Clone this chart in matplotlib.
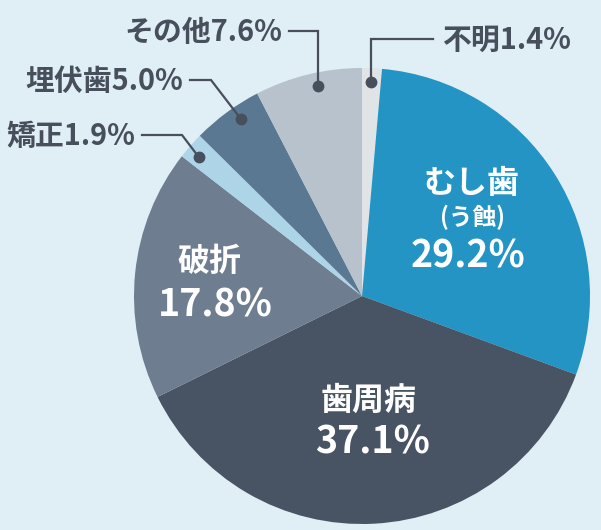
import numpy as np
import matplotlib.pyplot as plt

# pie data, clockwise from 12 o'clock
names = ['不明', 'むし歯', '歯周病', '破折', '矯正', '埋伏歯', 'その他']
shares = [1.4, 29.2, 37.1, 17.8, 1.9, 5.0, 7.6]
colors = ['#e0e4e7', '#2394c3', '#485463', '#6e7e90', '#add4e7', '#5b7893', '#b8c2cd']

bg = '#e0eef6'
dark = '#464f5b'
font = ['Noto Sans CJK JP', 'DejaVu Sans']

cx, cy, R = 362, 296, 228

fig = plt.figure(figsize=(6.01, 5.30), dpi=100, facecolor=bg)
ax = fig.add_axes([0, 0, 1, 1])
ax.set_facecolor(bg)

# y axis is flipped so pixel coords work, hence startangle -90 + counterclock
wedges, _ = ax.pie(shares, colors=colors, startangle=-90, counterclock=True,
                   center=(cx, cy), radius=R, frame=True,
                   wedgeprops=dict(linewidth=0))
ax.set_xlim(0, 601)
ax.set_ylim(530, 0)
ax.set_aspect('auto')
ax.axis('off')

def fmt(v):
    return f'{v:.1f}%'

# big labels inside the wedges
inside = {1: (471, 184, 468, 256), 2: (369, 401, 373, 442), 3: (209, 262, 215, 305)}
for i, (tx, ty, px, py) in inside.items():
    ax.text(tx, ty, names[i], color='white', fontsize=23, fontweight='bold',
            family=font, ha='center', va='center')
    ax.text(px, py, fmt(shares[i]), color='white', fontsize=27, fontweight='bold',
            family=font, ha='center', va='center')
ax.text(472, 217, '(う蝕)', color='white', fontsize=17, fontweight='bold',
        family=font, ha='center', va='center')

# small wedges get leader lines: (index, spot in wedge, elbow, line end, side)
callouts = [
    (0, 0.5, None, (433, 38.5), 'left'),
    (6, 0.57, None, (289, 31), 'right'),
    (5, 0.61, (211, 80), (190, 80), 'right'),
    (4, 0.38, (182, 135), (142, 135), 'right'),
]
for i, frac, elbow, end, side in callouts:
    w = wedges[i]
    th = np.radians(w.theta1 + frac * (w.theta2 - w.theta1))
    dx = cx + 0.94 * R * np.cos(th)
    dy = cy + 0.94 * R * np.sin(th)
    if elbow is None:
        elbow = (dx, end[1])
    ax.plot([dx, elbow[0], end[0]], [dy, elbow[1], end[1]], color=dark, lw=1.6,
            solid_joinstyle='miter')
    ax.plot(dx, dy, 'o', color=dark, ms=8.5, mew=0)
    if side == 'left':
        tx, ha = end[0] + 9, 'left'
    else:
        tx, ha = end[0] - 7, 'right'
    ax.text(tx, end[1] + 1, names[i] + fmt(shares[i]), color=dark, fontsize=20.8,
            fontweight='bold', family=font, ha=ha, va='center')

fig.savefig('out.png', dpi=100, facecolor=bg)
